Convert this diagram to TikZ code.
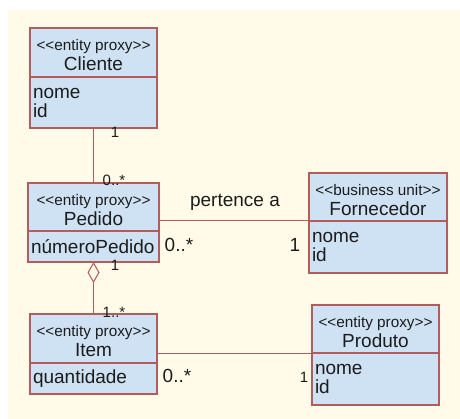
\documentclass[tikz,border=0pt]{standalone}
\usepackage{fontspec}
\newfontfamily\umlfont{Liberation Sans}
\usetikzlibrary{positioning, arrows.meta}
\definecolor{umlBack}{RGB}{255,251,232}
\definecolor{umlFill}{RGB}{207,226,243}
\definecolor{umlLine}{RGB}{178,92,92}
\definecolor{umlText}{RGB}{28,28,28}
\newcommand{\stereo}[1]{{\fontsize{15.3}{20}\selectfont\rule{0pt}{17pt}\textless\textless#1\textgreater\textgreater}}
\tikzset{
  classhead/.style={draw=umlLine, fill=umlFill, line width=1.2pt, inner sep=0pt, outer sep=0pt,
    align=center, anchor=north west, text=umlText, font=\umlfont\fontsize{19}{20}\selectfont},
  classattr/.style={draw=umlLine, fill=umlFill, line width=1.2pt, inner xsep=3pt, inner ysep=0pt, outer sep=0pt,
    align=left, text=umlText, font=\umlfont\fontsize{19}{19}\selectfont},
  mult/.style={inner sep=0pt, text=umlText, font=\umlfont\fontsize{15}{18}\selectfont},
  bigmult/.style={inner sep=0pt, text=umlText, font=\umlfont\fontsize{19}{20}\selectfont},
  assoc/.style={draw=umlLine, line width=1pt}
}

\begin{document}
\begin{tikzpicture}[x=1pt, y=-1pt, node distance=0pt]
\useasboundingbox (0,0) rectangle (460,419);
\fill[umlBack] (8,10) rectangle (460,419);
% classes
\node[classhead, minimum width=127pt, minimum height=49pt] (cliente) at (30,28) {\stereo{entity proxy}\\Cliente};
\node[classattr, below=of cliente, text width=121pt, minimum height=51pt] (clienteAttr) {nome\\id};
\node[classhead, minimum width=131pt, minimum height=48pt] (pedido) at (28,183) {\stereo{entity proxy}\\Pedido};
\node[classattr, below=of pedido, text width=125pt, minimum height=31pt] (pedidoAttr) {númeroPedido};
\node[classhead, minimum width=127pt, minimum height=49pt] (item) at (30,314) {\stereo{entity proxy}\\Item};
\node[classattr, below=of item, text width=121pt, minimum height=31pt] (itemAttr) {quantidade};
\node[classhead, minimum width=138pt, minimum height=48pt] (fornecedor) at (309,173) {\stereo{business unit}\\Fornecedor};
\node[classattr, below=of fornecedor, text width=132pt, minimum height=52pt] (fornecedorAttr) {nome\\id};
\node[classhead, minimum width=127pt, minimum height=48pt] (produto) at (312,305) {\stereo{entity proxy}\\Produto};
\node[classattr, below=of produto, text width=121pt, minimum height=52pt] (produtoAttr) {nome\\id};
% associations
\draw[assoc] (clienteAttr.south) -- (pedido.north);
\draw[assoc] (pedido.east |- fornecedor.south west) -- (fornecedor.south west);
\draw[assoc, -{Diamond[open, length=21pt, width=12pt]}] (item.north) -- (pedidoAttr.south);
\draw[assoc] (item.east |- produto.south west) -- (produto.south west);
% multiplicities
\node[mult] (mCliente) at (115,132) {1};
\node[mult] (mPedidoCli) at (114,180) {0..*};
\node[mult] (mPedidoItem) at (115,265) {1};
\node[mult] (mItem) at (114,312) {1..*};
\node[bigmult] (rotulo) at (235,202) {pertence a};
\node[bigmult] (mPedidoForn) at (179,245) {0..*};
\node[bigmult] (mFornecedor) at (295,245) {1};
\node[bigmult] (mItemProd) at (177,376) {0..*};
\node[mult] (mProduto) at (304,377) {1};
\end{tikzpicture}
\end{document}
